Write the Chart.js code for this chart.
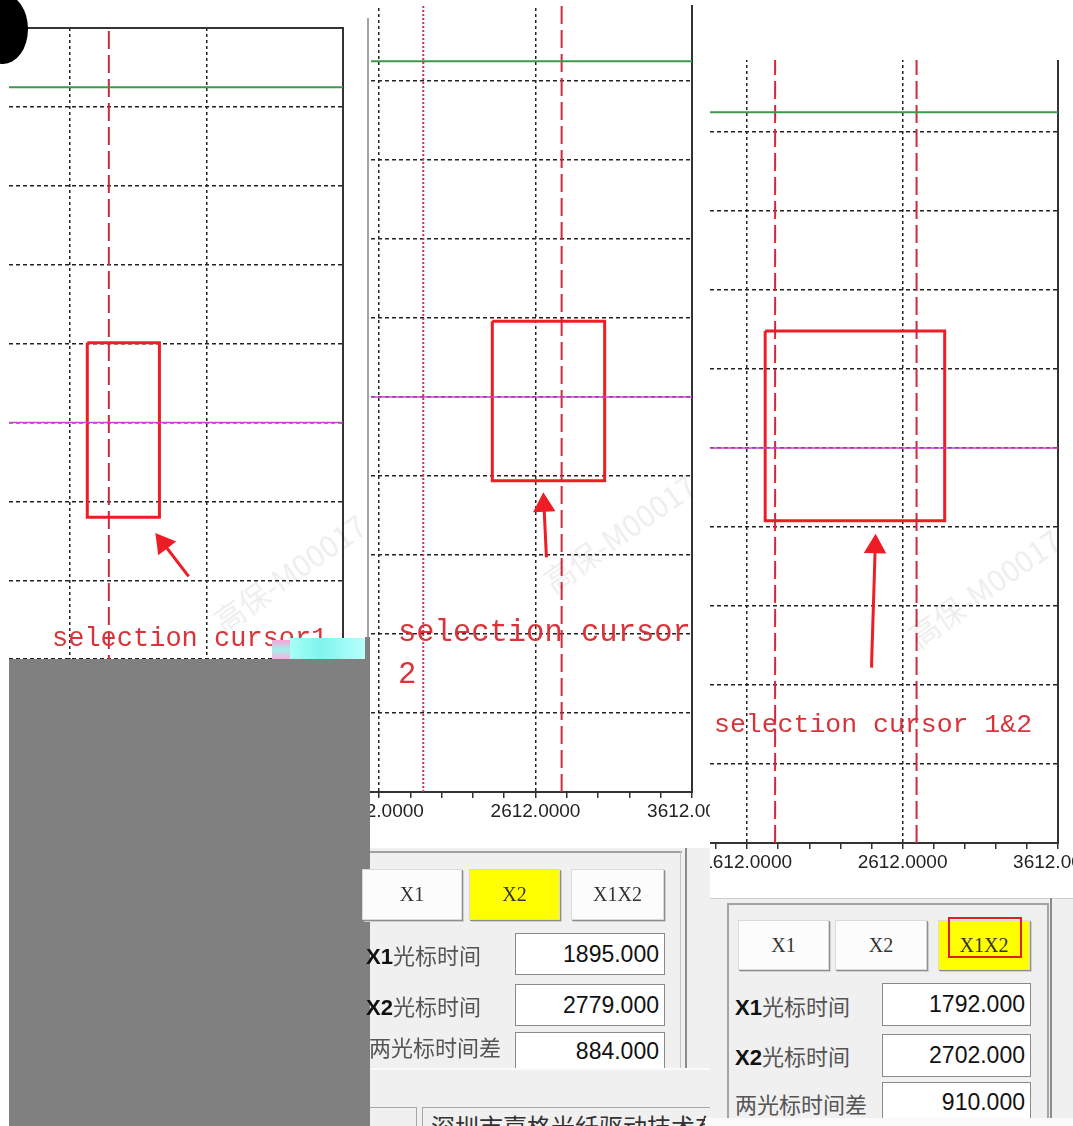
<!DOCTYPE html>
<html>
<head>
<meta charset="utf-8">
<script src="https://cdn.jsdelivr.net/npm/chart.js@4.4.0/dist/chart.umd.min.js"></script>
<style>
body { margin: 0; width: 1073px; height: 1126px; position: relative; overflow: hidden; background: #fff; font-family: "Liberation Sans", sans-serif; }
.box { position: absolute; }
.panel { position: absolute; overflow: hidden; }
.panel canvas { position: absolute; }
.note { position: absolute; color: #d9343a; font-family: "Liberation Mono", monospace; white-space: nowrap; }
.btn { position: absolute; box-sizing: border-box; background: #fcfcfc; border: 1px solid #dadada; box-shadow: 1px 1px 0 #8e8e8e, 2px 2px 0 #cfcfcf; font-family: "Liberation Serif", serif; font-size: 20px; color: #333; display: flex; align-items: center; justify-content: center; }
.btn.on { background: #ffff00; }
.lbl { position: absolute; font-family: "Noto Sans CJK SC", sans-serif; font-size: 22px; line-height: 22px; color: #555; white-space: nowrap; }
.lbl b { font-family: "Liberation Sans", sans-serif; color: #111; }
.val { position: absolute; box-sizing: border-box; background: #fff; border: 1px solid #8a8a8a; font-size: 23px; color: #111; text-align: right; padding-right: 5px; }
.wm { position: absolute; color: rgba(0,0,0,0.07); font-family: "Noto Sans CJK SC", serif; font-size: 30px; transform: rotate(-35deg); white-space: nowrap; }
</style>
</head>
<body>

<!-- panel 1 : cursor 1 -->
<div class="panel" style="left:0;top:0;width:366px;height:660px;"><canvas id="p1" width="366" height="870" style="left:0;top:0"></canvas></div>
<!-- panel 2 : cursor 2 -->
<div class="panel" style="left:367px;top:5px;width:343px;height:840px;"><canvas id="p2" width="343" height="843" style="left:0;top:-3px"></canvas></div>
<!-- panel 3 : cursor 1&2 -->
<div class="panel" style="left:710px;top:60px;width:363px;height:838px;"><canvas id="p3" width="368" height="843" style="left:-5px;top:-7px"></canvas></div>

<div class="box" style="left:367px;top:18px;width:2px;height:620px;background:#a4a4a4;"></div>
<div class="box" style="left:-22px;top:-6px;width:50px;height:70px;border-radius:50%;background:#000;"></div>

<div class="wm" style="left:200px;top:550px;">高保-M00017</div>
<div class="wm" style="left:530px;top:510px;">高保-M00017</div>
<div class="wm" style="left:895px;top:565px;">高保-M00017</div>

<div class="note" style="left:52px;top:626px;font-size:27px;line-height:27px;">selection cursor1</div>
<div class="note" style="left:398px;top:612px;font-size:30.5px;line-height:42px;">selection cursor<br>2</div>
<div class="note" style="left:714px;top:712px;font-size:26.5px;line-height:27px;">selection cursor 1&amp;2</div>

<!-- grey cover over panel 1 -->
<div class="box" style="left:290px;top:638px;width:75px;height:21px;background:linear-gradient(90deg,#a8fff8,#7ff4ee 40%,#b8fffa);"></div>
<div class="box" style="left:272px;top:640px;width:18px;height:19px;background:linear-gradient(180deg,#ff9fd8,#9ff2ea 50%,#ffb0e0);"></div>
<div class="box" style="left:9px;top:659px;width:361px;height:467px;background:#808080;"></div>
<div class="box" style="left:365px;top:637px;width:5px;height:30px;background:#808080;"></div>

<!-- panel 2 controls -->
<div class="box" style="left:370px;top:848px;width:340px;height:278px;background:#f0f0f0;"></div>
<div class="box" style="left:370px;top:851px;width:312px;height:2px;background:#a0a0a0;"></div>
<div class="box" style="left:680px;top:851px;width:1px;height:217px;background:#c4c4c4;"></div>
<div class="box" style="left:685px;top:848px;width:2px;height:220px;background:#8c8c8c;"></div>
<div class="btn" style="left:362px;top:869px;width:100px;height:51px;">X1</div>
<div class="btn on" style="left:469px;top:869px;width:91px;height:51px;">X2</div>
<div class="btn" style="left:571px;top:869px;width:93px;height:51px;">X1X2</div>
<div class="lbl" style="left:366px;top:943px;"><b>X1</b>光标时间</div>
<div class="lbl" style="left:366px;top:994px;"><b>X2</b>光标时间</div>
<div class="lbl" style="left:369px;top:1035px;">两光标时间差</div>
<div class="val" id="v21" style="left:515px;top:933px;width:150px;height:42px;line-height:40px;"></div>
<div class="val" id="v22" style="left:515px;top:984px;width:150px;height:42px;line-height:40px;"></div>
<div class="val" id="v23" style="left:515px;top:1032px;width:150px;height:42px;line-height:36px;"></div>
<div class="box" style="left:370px;top:1068px;width:340px;height:39px;background:#f0f0f0;border-top:2px solid #fafafa;"></div>
<div class="box" style="left:370px;top:1107px;width:46px;height:30px;border-top:1px solid #a8a8a8;border-right:1px solid #a8a8a8;"></div>
<div class="box" style="left:422px;top:1107px;width:288px;height:19px;border-top:1px solid #a8a8a8;border-left:1px solid #a8a8a8;overflow:hidden;">
  <div style="position:absolute;left:8px;top:6px;font-family:'Noto Sans CJK SC';font-size:24px;line-height:24px;color:#333;white-space:nowrap;">深圳市嘉格光纤驱动技术有限公司</div>
</div>

<!-- panel 3 controls -->
<div class="box" style="left:710px;top:898px;width:363px;height:228px;background:#f0f0f0;border-top:1px solid #cfcfcf;"></div>
<div class="box" style="left:727px;top:903px;width:318px;height:230px;border:2px solid #a4a4a4;border-bottom:none;"></div>
<div class="box" style="left:1050px;top:898px;width:2px;height:228px;background:#8c8c8c;"></div>
<div class="btn" style="left:738px;top:920px;width:91px;height:50px;">X1</div>
<div class="btn" style="left:835px;top:920px;width:92px;height:50px;">X2</div>
<div class="btn on" style="left:938px;top:920px;width:92px;height:50px;">X1X2</div>
<div class="box" style="left:948px;top:917px;width:74px;height:41px;box-sizing:border-box;border:2px solid #e02020;"></div>
<div class="lbl" style="left:735px;top:994px;"><b>X1</b>光标时间</div>
<div class="lbl" style="left:735px;top:1044px;"><b>X2</b>光标时间</div>
<div class="lbl" style="left:735px;top:1092px;">两光标时间差</div>
<div class="val" id="v31" style="left:882px;top:983px;width:149px;height:43px;line-height:41px;"></div>
<div class="val" id="v32" style="left:882px;top:1034px;width:149px;height:43px;line-height:41px;"></div>
<div class="val" id="v33" style="left:882px;top:1082px;width:149px;height:43px;line-height:38px;"></div>
<div class="box" style="left:705px;top:1118px;width:368px;height:8px;background:#fafafa;"></div>

<script>
// shared scale values
const yMin = 0;
const yMax = 10;
const majorTicks = [1612, 2612, 3612];
const minorStep = 200;
const greenLevel = 9.25;
const magentaLevel = 5.0;

// one entry per panel
const xRanges = [[1163, 3612], [1561, 3612], [1373, 3612]];
const cursor1 = [1895, 1895, 1792];
const cursor2 = [null, 2779, 2702];
const cursor1Dash = [[18, 6], [2, 2], [18, 6]];
const boxX = [[1737, 2266], [2336, 3054], [1728, 2883]];
const boxY = [[3.80, 6.01], [3.94, 5.96], [4.08, 6.48]];
const arrowTail = [[2480, 3.05], [2682, 2.97], [2412, 2.22]];
const arrowHead = [[2294, 3.47], [2666, 3.63], [2436, 3.75]];
const pads = [{left: 9, top: 28, right: 23}, {left: 4, top: 0, right: 18}, {left: 5, top: 0, right: 15}];
const topBorder = [true, false, false];

// readouts under panels 2 and 3
const x1Times = [1895, 1792];
const x2Times = [2779, 2702];
const timeDiffs = [884, 910];

const RED = "#d0283c";

function seg(data, color, width, dash) {
    return { data: data, borderColor: color, borderWidth: width, borderDash: dash || [], pointRadius: 0, fill: false, tension: 0 };
}

function arrowAngle(c) {
    const pts = c.dataset.data, xs = c.chart.scales.x, ys = c.chart.scales.y;
    const dx = xs.getPixelForValue(pts[1].x) - xs.getPixelForValue(pts[0].x);
    const dy = ys.getPixelForValue(pts[1].y) - ys.getPixelForValue(pts[0].y);
    return Math.atan2(dx, -dy) * 180 / Math.PI;
}

function makePanel(id, i) {
    const xa = xRanges[i][0], xb = xRanges[i][1];
    const sets = [
        seg([{x: xa, y: greenLevel}, {x: xb, y: greenLevel}], "#3d9a4c", 2),
        seg([{x: xa, y: magentaLevel}, {x: xb, y: magentaLevel}], "#cc44cc", 1.5),
        seg([{x: cursor1[i], y: yMin}, {x: cursor1[i], y: yMax}], i === 1 ? "#d0305a" : RED, 2, cursor1Dash[i])
    ];
    if (cursor2[i] !== null) {
        sets.push(seg([{x: cursor2[i], y: yMin}, {x: cursor2[i], y: yMax}], RED, 2, [18, 6]));
    }
    const bx = boxX[i], by = boxY[i];
    sets.push(seg([{x: bx[0], y: by[1]}, {x: bx[1], y: by[1]}, {x: bx[1], y: by[0]}, {x: bx[0], y: by[0]}, {x: bx[0], y: by[1]}], "#ee1c24", 3));
    const arrow = seg([{x: arrowTail[i][0], y: arrowTail[i][1]}, {x: arrowHead[i][0], y: arrowHead[i][1]}], "#ee1c24", 3);
    arrow.pointRadius = c => c.dataIndex ? 10 : 0;
    arrow.pointStyle = "triangle";
    arrow.pointBackgroundColor = "#ee1c24";
    arrow.pointBorderColor = "#ee1c24";
    arrow.rotation = arrowAngle;
    sets.push(arrow);

    new Chart(document.getElementById(id), {
        type: "line",
        data: { datasets: sets },
        options: {
            responsive: false,
            animation: false,
            devicePixelRatio: 1,
            events: [],
            layout: { autoPadding: false, padding: { left: pads[i].left, top: pads[i].top, right: pads[i].right, bottom: 0 } },
            plugins: { legend: { display: false }, tooltip: { enabled: false } },
            scales: {
                x: {
                    type: "linear",
                    min: xa,
                    max: xb,
                    afterBuildTicks: s => {
                        const t = [];
                        for (let v = majorTicks[0]; v >= s.min; v -= minorStep) t.unshift({value: v});
                        for (let v = majorTicks[0] + minorStep; v <= s.max; v += minorStep) t.push({value: v});
                        s.ticks = t;
                    },
                    afterFit: s => { s.height = 53; s.paddingLeft = 0; s.paddingRight = 0; },
                    grid: {
                        color: c => majorTicks.includes(c.tick && c.tick.value) ? "#222" : "rgba(0,0,0,0)",
                        tickColor: "#333",
                        lineWidth: 1.5,
                        tickLength: 6
                    },
                    border: { display: true, color: "#333", width: 2, dash: [3, 3] },
                    ticks: {
                        autoSkip: false,
                        maxRotation: 0,
                        minRotation: 0,
                        padding: 2,
                        color: "#222",
                        font: { family: "Liberation Sans", size: 19 },
                        callback: v => majorTicks.includes(v) ? v.toFixed(4) : ""
                    }
                },
                xTop: {
                    type: "linear",
                    position: "top",
                    display: topBorder[i],
                    min: xa,
                    max: xb,
                    afterFit: s => { s.height = 0; s.paddingLeft = 0; s.paddingRight = 0; },
                    grid: { display: false },
                    ticks: { display: false },
                    border: { display: true, color: "#333", width: 2 }
                },
                y: {
                    type: "linear",
                    min: yMin,
                    max: yMax,
                    afterFit: s => { s.width = 0; s.paddingTop = 0; s.paddingBottom = 0; },
                    ticks: { display: false, stepSize: 1 },
                    grid: {
                        drawTicks: false,
                        color: c => (c.tick.value <= yMin || c.tick.value >= yMax) ? "rgba(0,0,0,0)" : "#222",
                        lineWidth: 1.5
                    },
                    border: { display: false, dash: [4, 3] }
                },
                yRight: {
                    type: "linear",
                    position: "right",
                    min: yMin,
                    max: yMax,
                    afterFit: s => { s.width = 0; s.paddingTop = 0; s.paddingBottom = 0; },
                    ticks: { display: false },
                    grid: { display: false },
                    border: { display: true, color: "#333", width: 2 }
                }
            }
        }
    });
}

makePanel("p1", 0);
makePanel("p2", 1);
makePanel("p3", 2);

document.getElementById("v21").textContent = x1Times[0].toFixed(3);
document.getElementById("v22").textContent = x2Times[0].toFixed(3);
document.getElementById("v23").textContent = timeDiffs[0].toFixed(3);
document.getElementById("v31").textContent = x1Times[1].toFixed(3);
document.getElementById("v32").textContent = x2Times[1].toFixed(3);
document.getElementById("v33").textContent = timeDiffs[1].toFixed(3);
</script>
</body>
</html>
